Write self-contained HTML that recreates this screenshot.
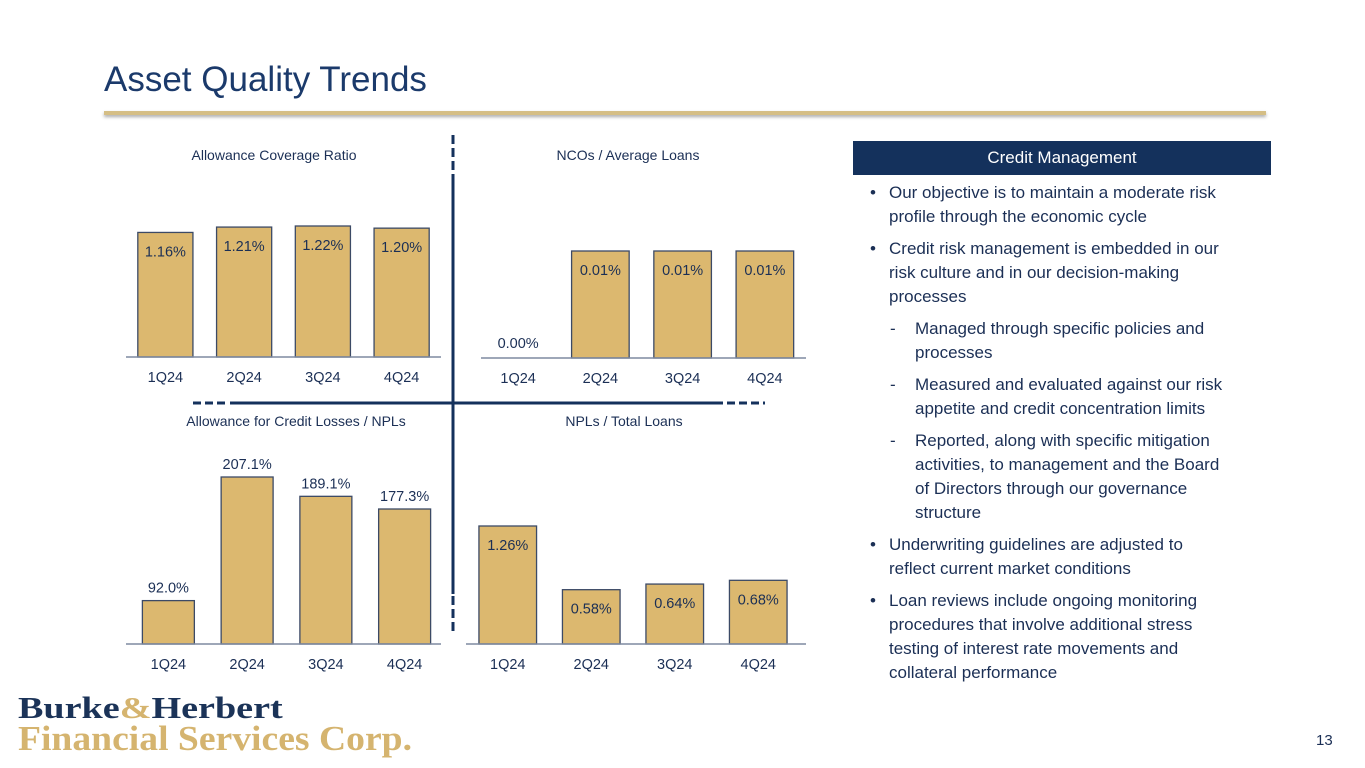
<!DOCTYPE html>
<html><head><meta charset="utf-8"><style>
body{margin:0;width:1365px;height:768px;background:#fff;font-family:"Liberation Sans",sans-serif;overflow:hidden;position:relative}
#title{position:absolute;left:104px;top:60px;font-size:35px;color:#1b3a6b;letter-spacing:0px}
#rule{position:absolute;left:104px;top:111px;width:1162px;height:4px;background:#d5be85;box-shadow:0 2px 3px #aaa}
#hdr{position:absolute;left:853px;top:141px;width:418px;height:34px;background:#14315c;color:#fff;font-size:17px;line-height:34px;text-align:center}
#list{position:absolute;left:868px;top:181px;width:379px;font-size:17px;line-height:24px;color:#1b2f55}
.b{position:relative;padding-left:21px;padding-right:17px;margin-bottom:8px}
.b:before{content:"•";position:absolute;left:2px}
.d{position:relative;padding-left:47px;padding-right:14px;margin-bottom:8px}
.d:before{content:"-";position:absolute;left:22px}
#logo1{position:absolute;left:18px;top:690px;font-family:"Liberation Serif",serif;font-weight:bold;font-size:31px;color:#1b3358;transform-origin:0 0;transform:scaleX(1.23)}
#logo2{position:absolute;left:18px;top:719px;font-family:"Liberation Serif",serif;font-weight:bold;font-size:35px;color:#d5b46f;transform-origin:0 0;transform:scaleX(1.075)}
#pg{position:absolute;left:1316px;top:732px;font-size:15px;color:#1b2f55}
svg{position:absolute;left:0;top:0}
</style></head><body>
<div id="title">Asset Quality Trends</div>
<div id="rule"></div>
<div id="hdr">Credit Management</div>
<div id="list">
<div class="b">Our objective is to maintain a moderate risk profile through the economic cycle</div>
<div class="b">Credit risk management is embedded in our risk culture and in our decision-making processes</div>
<div class="d">Managed through specific policies and processes</div>
<div class="d">Measured and evaluated against our risk appetite and credit concentration limits</div>
<div class="d">Reported, along with specific mitigation activities, to management and the Board of Directors through our governance structure</div>
<div class="b">Underwriting guidelines are adjusted to reflect current market conditions</div>
<div class="b">Loan reviews include ongoing monitoring procedures that involve additional stress testing of interest rate movements and collateral performance</div>
</div>
<div id="logo1">Burke<span style="color:#d5b46f">&amp;</span>Herbert</div>
<div id="logo2">Financial Services Corp.</div>
<div id="pg">13</div>
<svg id="charts" width="1365" height="768">
<g stroke="#14315c" stroke-width="3" fill="none">
<line x1="453" y1="135" x2="453" y2="170" stroke-dasharray="9,4"/>
<line x1="453" y1="174" x2="453" y2="594"/>
<line x1="453" y1="596" x2="453" y2="632" stroke-dasharray="9,4"/>
<line x1="193" y1="403" x2="228" y2="403" stroke-dasharray="8,4"/>
<line x1="230" y1="403" x2="723" y2="403"/>
<line x1="727" y1="403" x2="765" y2="403" stroke-dasharray="8,4"/>
</g>
</svg>
<script>
const categories=["1Q24","2Q24","3Q24","4Q24"];
const acrValues=[1.16,1.21,1.22,1.20];
const acrLabels=["1.16%","1.21%","1.22%","1.20%"];
const ncoValues=[0.00,0.01,0.01,0.01];
const ncoLabels=["0.00%","0.01%","0.01%","0.01%"];
const aclValues=[92.0,207.1,189.1,177.3];
const aclLabels=["92.0%","207.1%","189.1%","177.3%"];
const nplValues=[1.26,0.58,0.64,0.68];
const nplLabels=["1.26%","0.58%","0.64%","0.68%"];
const NS="http://www.w3.org/2000/svg";
const svg=document.getElementById('charts');
function el(t,a){const e=document.createElementNS(NS,t);for(const k in a)e.setAttribute(k,a[k]);svg.appendChild(e);return e;}
function chart(o){
  const scale=v=>o.h*(v-o.min)/(o.max-o.min);
  const t=el('text',{x:o.cx,y:o.ty,'text-anchor':'middle','font-size':14,fill:'#1b2f55'});t.textContent=o.title;
  
  
  const n=categories.length,step=(o.x1-o.x0)/n,bw=step*o.bw;
  o.vals.forEach((v,i)=>{
    const cx=o.x0+step*(i+0.5),h=Math.max(0,scale(v));
    if(h>0.5){const r=el('rect',{x:cx-bw/2,y:o.base-h,width:bw,height:h,fill:'#dcb86f',stroke:'#3c4a66','stroke-width':1.3});
      
      }
    let ly;
    if(h<=0.5){ly=o.base-10;}else if(o.inside){ly=o.base-h+o.inOff;}else{ly=o.base-h-8;}
    const lt=el('text',{x:cx,y:ly,'text-anchor':'middle','font-size':14.5,fill:'#1b2f55'});lt.textContent=o.labels[i];
    
    
    const ct=el('text',{x:cx,y:o.base+25,'text-anchor':'middle','font-size':14.5,fill:'#1b2f55'});ct.textContent=categories[i];
    
    
  });
  const ax=el('line',{x1:o.ax0,y1:o.base,x2:o.ax1,y2:o.base,stroke:'#7f8aa0','stroke-width':1.5});
  
  
}
chart({title:'Allowance Coverage Ratio',cx:274,ty:160,vals:acrValues,labels:acrLabels,min:0,max:1.22,h:131,base:357,x0:126,x1:441,ax0:126,ax1:441,bw:0.7,inside:true,inOff:24});
chart({title:'NCOs / Average Loans',cx:628,ty:160,vals:ncoValues,labels:ncoLabels,min:0,max:0.01,h:107,base:358,x0:477,x1:806,ax0:481,ax1:806,bw:0.7,inside:true,inOff:24});
chart({title:'Allowance for Credit Losses / NPLs',cx:296,ty:426,vals:aclValues,labels:aclLabels,min:51.6,max:207.1,h:167,base:644,x0:129,x1:444,ax0:126,ax1:441,bw:0.66,inside:false});
chart({title:'NPLs / Total Loans',cx:624,ty:426,vals:nplValues,labels:nplLabels,min:0,max:1.26,h:118,base:644,x0:466,x1:800,ax0:466,ax1:806,bw:0.69,inside:true,inOff:24});
</script>
</body></html>
